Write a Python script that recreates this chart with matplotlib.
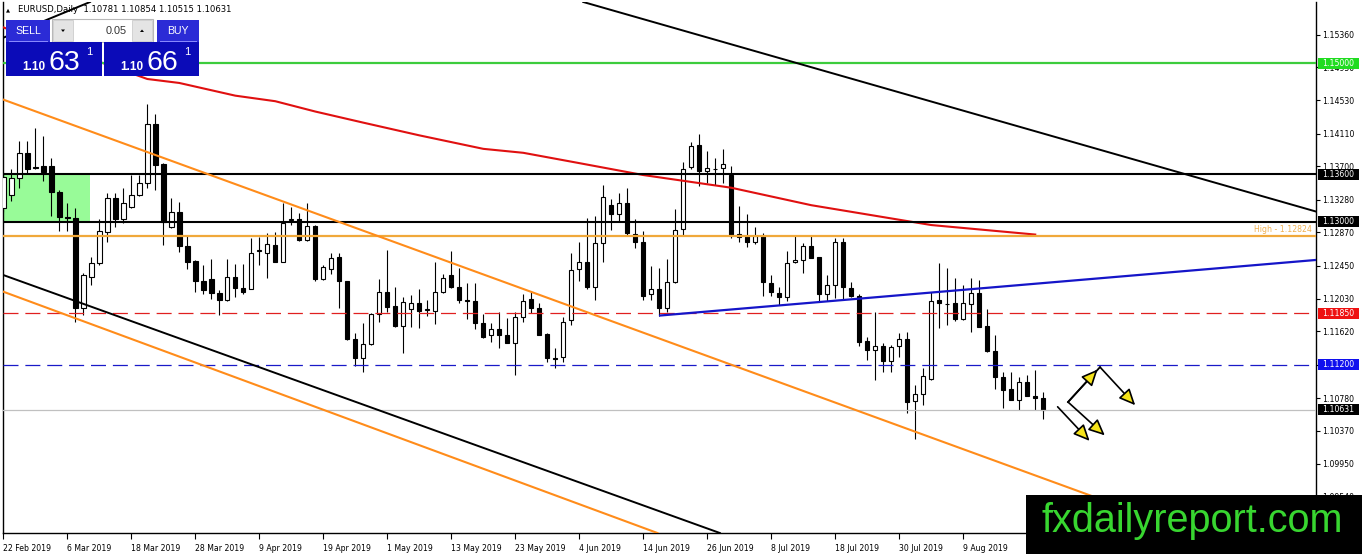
import matplotlib
matplotlib.use('Agg')
import matplotlib.pyplot as plt
import matplotlib.transforms as mtransforms
from matplotlib.patches import Rectangle, Polygon

# daily EURUSD candles (open, high, low, close)
opens = [1.1318, 1.1334, 1.1355, 1.1387, 1.1369, 1.1370, 1.1370, 1.1338, 1.1306, 1.1305,
         1.1191, 1.1231, 1.1248, 1.1287, 1.1330, 1.1303, 1.1319, 1.1334, 1.1349, 1.1423,
         1.1373, 1.1293, 1.1312, 1.1269, 1.1251, 1.1226, 1.1228, 1.1210, 1.1202, 1.1230,
         1.1217, 1.1216, 1.1263, 1.1261, 1.1271, 1.1250, 1.1302, 1.1303, 1.1277, 1.1295,
         1.1228, 1.1240, 1.1256, 1.1225, 1.1153, 1.1129, 1.1146, 1.1184, 1.1212, 1.1194,
         1.1169, 1.1190, 1.1198, 1.1189, 1.1188, 1.1212, 1.1233, 1.1218, 1.1201, 1.1200,
         1.1172, 1.1158, 1.1165, 1.1158, 1.1148, 1.1180, 1.1203, 1.1192, 1.1159, 1.1128,
         1.1130, 1.1176, 1.1240, 1.1249, 1.1218, 1.1273, 1.1321, 1.1310, 1.1324, 1.1285,
         1.1274, 1.1209, 1.1216, 1.1191, 1.1224, 1.1291, 1.1369, 1.1397, 1.1364, 1.1367,
         1.1368, 1.1359, 1.1285, 1.1282, 1.1275, 1.1282, 1.1223, 1.1211, 1.1205, 1.1249,
         1.1252, 1.1270, 1.1256, 1.1209, 1.1221, 1.1274, 1.1217, 1.1207, 1.1150, 1.1138,
         1.1144, 1.1125, 1.1143, 1.1152, 1.1074, 1.1083, 1.1102, 1.1201, 1.1197, 1.1198,
         1.1177, 1.1196, 1.1211, 1.1169, 1.1137, 1.1105, 1.1089, 1.1076, 1.1098, 1.1081,
         1.10781]
highs = [1.1363, 1.1367, 1.1402, 1.1402, 1.1418, 1.1408, 1.1381, 1.1340, 1.1324, 1.1318,
         1.1236, 1.1256, 1.1303, 1.1336, 1.1336, 1.1343, 1.1359, 1.1359, 1.1448, 1.1436,
         1.1374, 1.1330, 1.1325, 1.1284, 1.1252, 1.1246, 1.1253, 1.1214, 1.1253, 1.1247,
         1.1247, 1.1280, 1.1281, 1.1286, 1.1287, 1.1324, 1.1319, 1.1311, 1.1324, 1.1296,
         1.1246, 1.1261, 1.1261, 1.1226, 1.1160, 1.1172, 1.1185, 1.1228, 1.1264, 1.1218,
         1.1205, 1.1208, 1.1216, 1.1201, 1.1249, 1.1234, 1.1263, 1.1242, 1.1223, 1.1223,
         1.1184, 1.1173, 1.1186, 1.1179, 1.1186, 1.1209, 1.1213, 1.1198, 1.1160, 1.1141,
         1.1180, 1.1261, 1.1275, 1.1305, 1.1307, 1.1347, 1.1329, 1.1336, 1.1343, 1.1303,
         1.1288, 1.1245, 1.1242, 1.1253, 1.1316, 1.1376, 1.1401, 1.1411, 1.1389, 1.1380,
         1.1392, 1.1370, 1.1320, 1.1310, 1.1293, 1.1286, 1.1233, 1.1218, 1.1263, 1.1284,
         1.1273, 1.1282, 1.1256, 1.1233, 1.1280, 1.1280, 1.1224, 1.1209, 1.1155, 1.1186,
         1.1147, 1.1145, 1.1160, 1.1161, 1.1095, 1.1116, 1.1212, 1.1248, 1.1242, 1.1229,
         1.1221, 1.1229, 1.1227, 1.1190, 1.1158, 1.1111, 1.1111, 1.1105, 1.1107, 1.1113,
         1.10854]
lows = [1.1313, 1.1326, 1.1343, 1.1360, 1.1367, 1.1352, 1.1308, 1.1288, 1.1288, 1.1174,
        1.1183, 1.1220, 1.1246, 1.1275, 1.1294, 1.1298, 1.1317, 1.1333, 1.1343, 1.1340,
        1.1271, 1.1292, 1.1262, 1.1241, 1.1212, 1.1209, 1.1203, 1.1183, 1.1200, 1.1205,
        1.1209, 1.1215, 1.1246, 1.1229, 1.1249, 1.1249, 1.1296, 1.1276, 1.1276, 1.1225,
        1.1227, 1.1234, 1.1191, 1.1151, 1.1118, 1.1111, 1.1145, 1.1174, 1.1186, 1.1168,
        1.1135, 1.1168, 1.1166, 1.1181, 1.1171, 1.1211, 1.1217, 1.1198, 1.1177, 1.1165,
        1.1154, 1.1149, 1.1141, 1.1147, 1.1107, 1.1174, 1.1185, 1.1157, 1.1123, 1.1116,
        1.1124, 1.1170, 1.1225, 1.1216, 1.1202, 1.1250, 1.1290, 1.1300, 1.1284, 1.1267,
        1.1202, 1.1202, 1.1181, 1.1187, 1.1223, 1.1284, 1.1366, 1.1345, 1.1349, 1.1347,
        1.1349, 1.1280, 1.1274, 1.1268, 1.1272, 1.1206, 1.1206, 1.1195, 1.1200, 1.1248,
        1.1236, 1.1254, 1.1200, 1.1200, 1.1204, 1.1202, 1.1205, 1.1144, 1.1126, 1.1101,
        1.1111, 1.1111, 1.1130, 1.1059, 1.1027, 1.1069, 1.1101, 1.1166, 1.1170, 1.1175,
        1.1176, 1.1161, 1.1167, 1.1136, 1.1090, 1.1065, 1.1075, 1.1063, 1.1080, 1.1063,
        1.10515]
closes = [1.1356, 1.1355, 1.1387, 1.1366, 1.1368, 1.1363, 1.1338, 1.1306, 1.1305, 1.1191,
          1.1233, 1.1248, 1.1288, 1.1330, 1.1303, 1.1324, 1.1334, 1.1349, 1.1423, 1.1372,
          1.1300, 1.1312, 1.1269, 1.1250, 1.1225, 1.1214, 1.1210, 1.1202, 1.1230, 1.1217,
          1.1212, 1.1261, 1.1264, 1.1272, 1.1250, 1.1298, 1.1303, 1.1277, 1.1295, 1.1228,
          1.1243, 1.1254, 1.1225, 1.1153, 1.1129, 1.1146, 1.1184, 1.1212, 1.1193, 1.1169,
          1.1199, 1.1198, 1.1188, 1.1190, 1.1212, 1.1229, 1.1218, 1.1201, 1.1200, 1.1172,
          1.1155, 1.1165, 1.1157, 1.1148, 1.1180, 1.1200, 1.1191, 1.1158, 1.1128, 1.1127,
          1.1174, 1.1239, 1.1249, 1.1218, 1.1273, 1.1331, 1.1310, 1.1324, 1.1286, 1.1274,
          1.1206, 1.1216, 1.1191, 1.1224, 1.1290, 1.1367, 1.1396, 1.1364, 1.1368, 1.1367,
          1.1373, 1.1284, 1.1281, 1.1275, 1.1282, 1.1224, 1.1212, 1.1205, 1.1248, 1.1252,
          1.1269, 1.1255, 1.1209, 1.1221, 1.1274, 1.1218, 1.1206, 1.1149, 1.1138, 1.1144,
          1.1125, 1.1142, 1.1152, 1.1073, 1.1083, 1.1106, 1.1200, 1.1198, 1.1197, 1.1177,
          1.1198, 1.1211, 1.1168, 1.1137, 1.1104, 1.1088, 1.1076, 1.1098, 1.1081, 1.1078,
          1.10631]

date_pos = list(range(0, 121, 8))
date_labels = ['22 Feb 2019', '6 Mar 2019', '18 Mar 2019', '28 Mar 2019', '9 Apr 2019',
               '19 Apr 2019', '1 May 2019', '13 May 2019', '23 May 2019', '4 Jun 2019',
               '14 Jun 2019', '26 Jun 2019', '8 Jul 2019', '18 Jul 2019', '30 Jul 2019',
               '9 Aug 2019']
price_ticks = [1.15360, 1.14950, 1.14530, 1.14110, 1.13700, 1.13280, 1.12870, 1.12450,
               1.12030, 1.11620, 1.11200, 1.10780, 1.10370, 1.09950, 1.09540]

# moving average (red), sampled along the curve
ma_idx = [0, 18, 22, 29, 34, 39, 45, 52, 60, 65, 72, 80, 91, 101, 116, 129]
ma_val = [1.1545, 1.1480, 1.1475, 1.1459, 1.1452, 1.1439, 1.1425, 1.1409, 1.1392, 1.1387,
          1.1374, 1.1359, 1.1343, 1.1321, 1.1296, 1.1284]

# horizontal levels
lvl_green = 1.15000
lvl_black = [1.13600, 1.13000]
lvl_high = 1.12824
lvl_red = 1.11850
lvl_blue = 1.11200
last_price = closes[-1]

# trend lines: (index1, price1, index2, price2)
black_lines = [(72.5, 1.1577, 164.1, 1.1313), (0.0, 1.1233, 89.3, 1.0909), (0.0, 1.1532, 10.6, 1.1576)]
orange_lines = [(0.0, 1.1454, 134.6, 1.0960), (0.0, 1.1212, 81.5, 1.0909)]
blue_line = (82.1, 1.1182, 164.1, 1.1252)
zone = (-0.5, 10.8, 1.1300, 1.1360)

# analyst arrows (start index, start price, end index, end price)
arrows = [(133.1, 1.1073, 136.8, 1.1114), (137.1, 1.1117, 141.5, 1.1069),
          (133.1, 1.1073, 137.7, 1.1031), (131.8, 1.1067, 135.8, 1.1024)]
arrow_tail = (133.1, 1.1073, 137.1, 1.1117)

W, H = 1362, 554
fig = plt.figure(figsize=(W / 100, H / 100), dpi=100)
ax = fig.add_axes([3 / W, (H - 533) / H, 1313 / W, 531 / H])
ax.set_xlim(-0.04, 164.1)
ax.set_ylim(1.0908, 1.1577)

fs = 5.6
ax.spines['top'].set_visible(False)
for s in ['left', 'right', 'bottom']:
    ax.spines[s].set_linewidth(1.0)

# zone
ax.add_patch(Rectangle((zone[0], zone[2]), zone[1] - zone[0], zone[3] - zone[2],
                       facecolor='#98fb98', edgecolor='none', zorder=1))

# candles
xs = list(range(len(opens)))
ax.vlines(xs, lows, highs, color='black', linewidth=0.8, zorder=2)
for i in xs:
    o, c = opens[i], closes[i]
    bottom = min(o, c)
    height = max(abs(c - o), 0.00001)
    fc = 'white' if c > o else 'black'
    ax.bar(i, height, bottom=bottom, width=0.55, color=fc, edgecolor='black',
           linewidth=0.8, zorder=3)

# lines
ax.plot(ma_idx, ma_val, color='#e01010', linewidth=1.5, zorder=4)
ax.axhline(lvl_green, color='#3ccc3c', linewidth=1.6, zorder=4)
for lv in lvl_black:
    ax.axhline(lv, color='black', linewidth=1.5, zorder=4)
ax.axhline(lvl_high, color='#f0a83a', linewidth=1.6, zorder=4)
ax.axhline(lvl_red, color='#e02020', linewidth=0.9, dashes=(12, 5.5), zorder=4)
ax.axhline(lvl_blue, color='#1a1ac8', linewidth=0.9, dashes=(12, 5.5), zorder=4)
ax.axhline(last_price, color='#c0c0c0', linewidth=0.9, zorder=4)
for x1, y1, x2, y2 in black_lines:
    ax.axline((x1, y1), (x2, y2), color='black', linewidth=1.4, zorder=4)
for x1, y1, x2, y2 in orange_lines:
    ax.axline((x1, y1), (x2, y2), color='#ff8c1a', linewidth=1.5, zorder=4)
ax.plot([blue_line[0], blue_line[2]], [blue_line[1], blue_line[3]], color='#1515c8',
        linewidth=1.6, zorder=4)

ax.text(163.6, lvl_high + 0.0002, 'High - 1.12824', ha='right', va='bottom',
        fontsize=fs, color='#f0b050', zorder=5)

# arrows
ax.plot([arrow_tail[0], arrow_tail[2]], [arrow_tail[1], arrow_tail[3]], color='black',
        linewidth=1.3, zorder=5)
for x1, y1, x2, y2 in arrows:
    ax.annotate('', xy=(x2, y2), xytext=(x1, y1),
                arrowprops=dict(arrowstyle='-|>,head_length=0.55,head_width=0.25',
                                mutation_scale=18, fc='#f5e31a', ec='black', lw=1.2,
                                shrinkA=0, shrinkB=0), zorder=6)

# axes ticks
ax.yaxis.tick_right()
ax.set_yticks(price_ticks)
ax.set_yticklabels([f'{p:.5f}' for p in price_ticks])
ax.set_xticks(date_pos)
ax.set_xticklabels(date_labels, ha='left')
ax.tick_params(axis='y', direction='out', length=3, width=0.8, pad=1.5, labelsize=fs)
ax.tick_params(axis='x', direction='out', length=4, width=0.8, pad=4, labelsize=fs)

# price boxes on the axis
trans = mtransforms.blended_transform_factory(ax.transAxes, ax.transData)
bw = 41 / 1313
bh = 11 * 0.0001261
boxes = [(lvl_green, '#20dc20', '1.15000'), (lvl_black[0], 'black', '1.13600'),
         (lvl_black[1], 'black', '1.13000'), (lvl_red, '#ee1111', '1.11850'),
         (lvl_blue, '#1010ee', '1.11200'), (last_price, 'black', f'{last_price:.5f}')]
for p, col, txt in boxes:
    ax.add_patch(Rectangle((1.0015, p - bh / 2), bw, bh, transform=trans, facecolor=col,
                           edgecolor='none', clip_on=False, zorder=10))
    ax.text(1.0015 + bw / 2, p, txt, transform=trans, ha='center', va='center',
            fontsize=fs, color='white', clip_on=False, zorder=11)

# overlay: header, trade panel, watermark
ui = fig.add_axes([0, 0, 1, 1], zorder=10)
ui.set_xlim(0, W)
ui.set_ylim(H, 0)
ui.axis('off')
ui.patch.set_alpha(0)

ui.text(6, 10, '\u25b2', fontsize=3.8, va='center', color='black')
ui.text(18, 10, f'EURUSD,Daily  {opens[-1]:.5f} {highs[-1]:.5f} {lows[-1]:.5f} {closes[-1]:.5f}',
        fontsize=6.1, va='center', color='black')

btn = '#2b2bd6'
box = '#0b0bb8'
ui.add_patch(Rectangle((6, 20), 44, 22, facecolor=btn, edgecolor='none'))
ui.add_patch(Rectangle((157, 20), 42, 22, facecolor=btn, edgecolor='none'))
ui.plot([9, 47], [41, 41], color='#8c8cff', linewidth=0.7)
ui.plot([160, 196], [41, 41], color='#8c8cff', linewidth=0.7)
ui.text(28, 31, 'SELL', ha='center', va='center', fontsize=7.6, color='white',
        family='Liberation Sans')
ui.text(178, 31, 'BUY', ha='center', va='center', fontsize=7.6, color='white',
        family='Liberation Sans')

ui.add_patch(Rectangle((52, 19), 101, 23, facecolor='white', edgecolor='#b8b8b8', linewidth=0.8))
ui.add_patch(Rectangle((53, 20), 20, 21, facecolor='#e4e4e4', edgecolor='#cccccc', linewidth=0.6))
ui.add_patch(Rectangle((132, 20), 20, 21, facecolor='#e4e4e4', edgecolor='#cccccc', linewidth=0.6))
ui.add_patch(Polygon([(61, 29.5), (65, 29.5), (63, 32)], closed=True, facecolor='black'))
ui.add_patch(Polygon([(140, 32), (144, 32), (142, 29.5)], closed=True, facecolor='black'))
ui.text(127, 31, '0.05', ha='right', va='center', fontsize=7.8, color='#333333',
        family='Liberation Sans')

ui.add_patch(Rectangle((6, 42), 96, 34, facecolor=box, edgecolor='none'))
ui.add_patch(Rectangle((104, 42), 95, 34, facecolor=box, edgecolor='none'))
for x0, big in [(22, '63'), (120, '66')]:
    ui.text(x0, 70, '1.10', ha='left', va='baseline', fontsize=8.5, color='white',
            family='Liberation Sans', weight='bold')
    ui.text(x0 + 26, 70, big, ha='left', va='baseline', fontsize=20.5, color='white',
            family='Liberation Sans')
    ui.text(x0 + 64, 55, '1', ha='left', va='baseline', fontsize=8, color='white',
            family='Liberation Sans')

ui.add_patch(Rectangle((1026, 495), 336, 59, facecolor='black', edgecolor='none'))
ui.text(1042, 532, 'fxdailyreport.com', ha='left', va='baseline', fontsize=28.5,
        color='#38d630', family='Liberation Sans')

fig.savefig('out.png', dpi=100)
